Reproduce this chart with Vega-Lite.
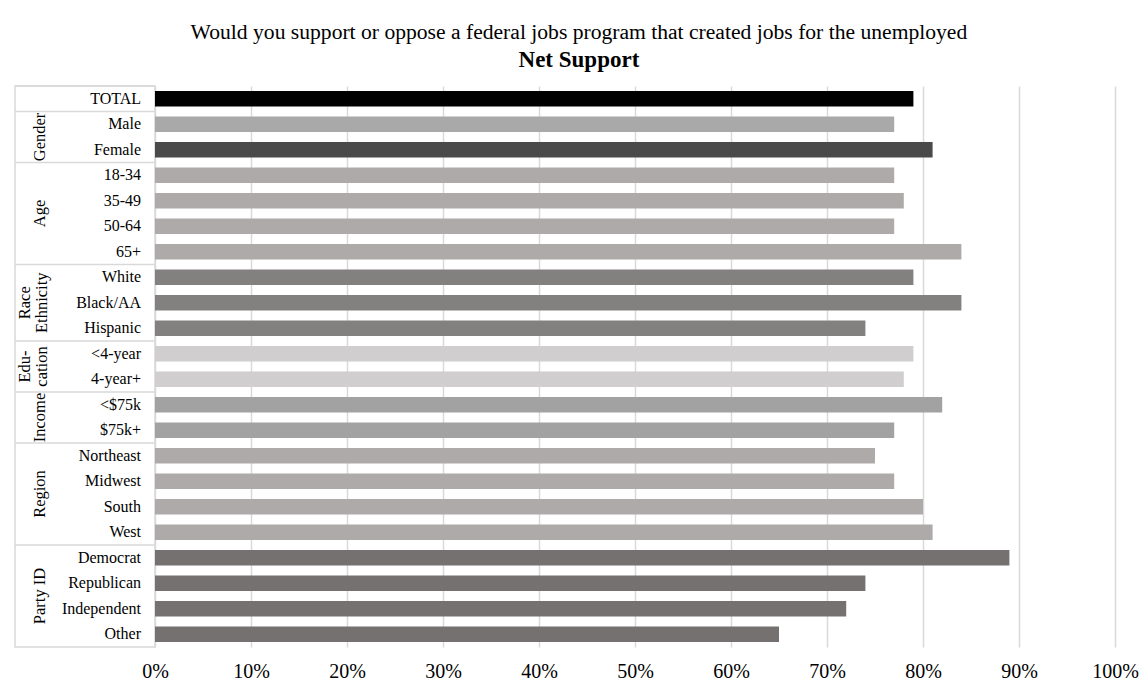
{
  "$schema": "https://vega.github.io/schema/vega-lite/v6.json",
  "padding": {"left": 13, "top": 21, "right": 0, "bottom": 5},
  "background": "white",
  "bounds": "flush",
  "title": {
    "text": "Would you support or oppose a federal jobs program that created jobs for the unemployed",
    "subtitle": "Net Support",
    "anchor": "middle",
    "dx": 3,
    "font": "Liberation Serif",
    "fontSize": 21.6,
    "fontWeight": "normal",
    "color": "#000000",
    "subtitleFont": "Liberation Serif",
    "subtitleFontSize": 23,
    "subtitleFontWeight": "bold",
    "subtitleColor": "#000000",
    "subtitlePadding": 5,
    "offset": 13
  },
  "datasets": {
    "rows": [
      {"idx": 0, "group": "TOTAL", "cat": "TOTAL", "value": 0.79},
      {"idx": 1, "group": "Gender", "cat": "Male", "value": 0.77},
      {"idx": 2, "group": "Gender", "cat": "Female", "value": 0.81},
      {"idx": 3, "group": "Age", "cat": "18-34", "value": 0.77},
      {"idx": 4, "group": "Age", "cat": "35-49", "value": 0.78},
      {"idx": 5, "group": "Age", "cat": "50-64", "value": 0.77},
      {"idx": 6, "group": "Age", "cat": "65+", "value": 0.84},
      {"idx": 7, "group": "Race\nEthnicity", "cat": "White", "value": 0.79},
      {"idx": 8, "group": "Race\nEthnicity", "cat": "Black/AA", "value": 0.84},
      {"idx": 9, "group": "Race\nEthnicity", "cat": "Hispanic", "value": 0.74},
      {"idx": 10, "group": "Edu-\ncation", "cat": "<4-year", "value": 0.79},
      {"idx": 11, "group": "Edu-\ncation", "cat": "4-year+", "value": 0.78},
      {"idx": 12, "group": "Income", "cat": "<$75k", "value": 0.82},
      {"idx": 13, "group": "Income", "cat": "$75k+", "value": 0.77},
      {"idx": 14, "group": "Region", "cat": "Northeast", "value": 0.75},
      {"idx": 15, "group": "Region", "cat": "Midwest", "value": 0.77},
      {"idx": 16, "group": "Region", "cat": "South", "value": 0.80},
      {"idx": 17, "group": "Region", "cat": "West", "value": 0.81},
      {"idx": 18, "group": "Party ID", "cat": "Democrat", "value": 0.89},
      {"idx": 19, "group": "Party ID", "cat": "Republican", "value": 0.74},
      {"idx": 20, "group": "Party ID", "cat": "Independent", "value": 0.72},
      {"idx": 21, "group": "Party ID", "cat": "Other", "value": 0.65}
    ]
  },
  "spacing": 0,
  "config": {
    "view": {"stroke": null},
    "font": "Liberation Serif"
  },
  "hconcat": [
    {
      "width": 140,
      "height": 561,
      "view": {"stroke": "#d9d9d9", "strokeWidth": 1.5},
      "data": {"name": "rows"},
      "layer": [
        {
          "mark": {"type": "rule", "color": "#d9d9d9", "strokeWidth": 1.5, "yOffset": -12.75},
          "encoding": {
            "y": {"aggregate": "min", "field": "idx", "type": "quantitative",
                  "scale": {"domain": [-0.5, 21.5], "reverse": true, "nice": false, "zero": false},
                  "axis": null},
            "detail": {"field": "group"}
          }
        },
        {
          "mark": {"type": "text", "align": "right", "baseline": "middle", "fontSize": 16, "dx": -14, "color": "#000000", "font": "Liberation Serif"},
          "encoding": {
            "x": {"value": "width"},
            "y": {"field": "idx", "type": "quantitative"},
            "text": {"field": "cat"}
          }
        },
        {
          "transform": [{"filter": "datum.group != 'TOTAL' && indexof(datum.group, '\\n') < 0"}],
          "mark": {"type": "text", "align": "center", "baseline": "middle", "angle": -90, "fontSize": 16.5, "dy": -45, "color": "#000000", "font": "Liberation Serif"},
          "encoding": {
            "y": {"aggregate": "mean", "field": "idx", "type": "quantitative"},
            "text": {"field": "group"}
          }
        },
        {
          "transform": [{"filter": "indexof(datum.group, '\\n') >= 0"}],
          "mark": {"type": "text", "align": "center", "baseline": "middle", "angle": -90, "fontSize": 16.5, "dy": -60, "lineBreak": "\n", "lineHeight": 17, "color": "#000000", "font": "Liberation Serif"},
          "encoding": {
            "y": {"aggregate": "mean", "field": "idx", "type": "quantitative"},
            "text": {"field": "group"}
          }
        }
      ]
    },
    {
      "width": 960,
      "height": 561,
      "data": {"name": "rows"},
      "mark": {"type": "bar"},
      "encoding": {
        "y": {"field": "cat", "type": "nominal", "sort": null,
              "scale": {"paddingInner": 0.4, "paddingOuter": 0.2},
              "axis": null},
        "x": {"field": "value", "type": "quantitative",
              "scale": {"domain": [0, 1], "nice": false},
              "axis": {"format": "~%", "values": [0, 0.1, 0.2, 0.3, 0.4, 0.5, 0.6, 0.7, 0.8, 0.9, 1.0],
                       "title": null, "domain": false, "ticks": false, "labelFlush": false,
                       "grid": true, "gridColor": "#d9d9d9", "gridWidth": 1.5,
                       "labelFont": "Liberation Serif", "labelFontSize": 20, "labelColor": "#000000",
                       "labelPadding": 14}},
        "color": {"field": "cat", "type": "nominal", "legend": null,
                  "scale": {"domain": ["TOTAL", "Male", "Female", "18-34", "35-49", "50-64", "65+", "White", "Black/AA", "Hispanic", "<4-year", "4-year+", "<$75k", "$75k+", "Northeast", "Midwest", "South", "West", "Democrat", "Republican", "Independent", "Other"],
                            "range": ["#000000", "#a9a9a9", "#4a4a4a", "#aeaaaa", "#aeaaaa", "#aeaaaa", "#aeaaaa", "#838080", "#838080", "#838080", "#d0cece", "#d0cece", "#a2a2a2", "#a2a2a2", "#aeaaaa", "#aeaaaa", "#aeaaaa", "#aeaaaa", "#757171", "#757171", "#757171", "#757171"]}}
      }
    }
  ]
}
